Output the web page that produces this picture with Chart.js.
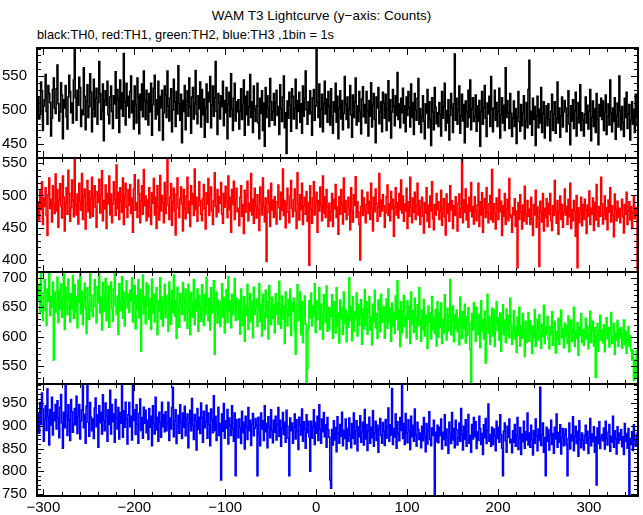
<!DOCTYPE html>
<html><head><meta charset="utf-8">
<script src="https://cdn.jsdelivr.net/npm/chart.js@4/dist/chart.umd.min.js"></script>
<style>
html,body{margin:0;padding:0;background:#fff;}
#wrap{position:relative;width:643px;height:515px;overflow:hidden;}
canvas{position:absolute;left:0;top:0;}
.t{position:absolute;font-family:"Liberation Sans",Arial,sans-serif;line-height:16px;color:#000;white-space:nowrap;}
#title{left:0;width:643px;text-align:center;top:8px;font-size:13.5px;}
#sub{left:37px;top:27px;font-size:12.8px;}
</style></head>
<body><div id="wrap">
<div class="t" id="title">WAM T3 Lightcurve (y−axis: Counts)</div>
<div class="t" id="sub">black:TH0, red:TH1, green:TH2, blue:TH3 ,1bin = 1s</div>
<canvas id="c" width="643" height="515"></canvas></div>
<script>
// time of the first 1 s bin (seconds); every following value is the next bin
const tStart = -306;

// black: TH0
const th0 = [
519,487,493,541,528,470,506,515,552,498,479,536,524,511,462,488,530,547,503,495,
531,566,509,484,497,540,522,458,515,503,536,490,472,519,551,527,496,510,481,544,
592,518,485,529,507,548,533,476,500,493,562,520,471,512,537,489,505,553,526,468,
502,545,490,517,532,479,511,571,524,486,499,538,455,514,528,507,542,493,480,519,
535,498,473,521,509,556,488,530,516,467,544,502,525,491,583,512,478,539,506,520,
489,527,550,496,513,472,535,508,481,547,519,465,523,500,538,490,557,514,486,529,
511,478,524,497,539,463,508,532,551,487,515,493,542,470,520,503,529,456,496,535,
522,489,557,506,484,517,531,468,500,545,512,476,527,494,565,509,485,523,452,514,
498,536,471,513,528,491,547,505,466,519,533,487,509,558,494,480,521,502,541,475,
530,493,516,460,503,538,482,526,512,549,474,507,535,491,518,571,498,464,524,510,
487,521,505,542,477,514,496,533,458,509,526,490,553,501,470,517,539,484,512,497,
515,472,498,531,486,509,544,463,520,493,527,478,505,552,489,512,467,535,501,483,
506,539,481,458,517,495,528,470,510,447,533,489,521,503,476,546,512,485,498,524,
478,511,529,492,505,464,537,501,483,519,550,474,496,436,513,488,526,507,469,531,
520,487,502,545,473,514,498,526,482,509,466,535,491,517,557,500,479,512,494,528,
497,463,518,530,485,506,591,512,489,538,475,501,523,468,509,542,494,516,482,527,
505,478,531,490,466,512,497,539,482,520,458,503,528,487,514,471,495,549,509,486,
519,474,501,536,493,460,522,489,512,547,478,506,483,527,498,465,516,534,490,508,
481,527,499,462,514,491,540,475,507,524,486,452,519,503,533,480,497,512,468,526,
510,488,523,470,501,543,484,515,459,497,530,506,477,521,492,555,486,509,474,517,
496,532,481,506,468,519,492,527,503,475,538,489,511,464,524,500,485,517,546,479,
502,467,490,521,483,458,509,495,530,474,512,486,448,518,497,471,533,504,480,496,
476,511,494,462,527,488,505,539,470,499,481,515,456,492,524,503,467,509,582,485,
517,479,500,535,466,491,523,484,508,452,513,497,475,529,489,544,471,502,518,483,
490,522,469,506,483,514,447,498,527,479,503,536,488,461,510,494,520,476,549,501,
468,503,529,485,511,476,497,532,459,493,518,481,507,470,562,489,514,496,473,524,
495,461,488,513,476,502,451,490,527,483,469,508,477,496,521,458,485,511,474,530,
573,479,498,463,517,486,505,448,492,520,474,501,481,533,467,495,512,459,488,506,
477,509,486,455,498,523,470,494,512,466,487,541,481,503,460,491,519,475,497,514,
503,468,492,528,479,449,506,484,515,473,499,526,462,488,511,481,537,470,496,485,
462,494,519,481,507,472,498,530,455,489,513,476,502,467,524,486,449,508,491,517,
486,513,470,497,522,464,490,509,478,544,495,468,503,483,518,457,492,510,475,550,
498,471,505,482,461,517,489,526,473,494,508,456,485,512,479,501,467,523,490,476
];

// red: TH1
const th1 = [
490,462,507,478,521,455,496,483,512,469,438,501,527,480,494,459,515,486,472,533,
476,509,451,493,518,484,465,530,497,445,488,512,471,539,503,460,481,524,492,467,
560,485,470,502,456,519,491,477,534,463,498,510,448,486,523,475,507,465,495,528,
468,497,515,482,451,506,489,525,473,500,538,461,492,479,516,449,503,487,530,470,
502,458,487,521,494,469,547,480,505,463,512,491,474,527,455,498,519,482,466,509,
485,517,472,496,443,510,532,477,489,466,524,503,458,492,515,471,540,484,499,461,
493,467,512,481,455,504,488,526,470,497,449,515,483,462,531,476,500,489,458,520,
472,506,560,485,463,497,518,454,490,511,476,439,502,527,481,466,495,513,487,445,
509,480,464,499,528,473,491,452,515,486,503,469,541,478,497,460,484,521,492,471,
461,495,517,479,448,504,487,526,469,500,513,476,455,492,535,483,467,509,474,498,
488,520,471,457,503,482,514,491,466,530,478,497,443,509,486,522,463,494,511,475,
480,453,497,515,468,486,441,508,474,499,522,461,488,476,534,470,494,457,511,483,
465,501,478,446,513,489,470,527,483,459,496,398,474,508,488,452,519,477,493,466,
498,472,456,490,516,481,463,505,477,541,469,492,450,486,511,474,458,499,523,480,
467,493,510,476,449,535,487,462,501,478,519,455,484,497,471,506,460,489,392,515,
479,457,496,521,470,488,505,443,492,476,513,484,461,530,473,498,466,509,482,452,
488,461,475,503,452,494,479,517,466,482,440,498,471,509,486,456,527,474,492,463,
470,497,481,447,512,476,459,501,485,529,466,490,474,455,400,483,508,469,496,478,
458,486,505,472,491,463,519,480,445,497,475,510,488,460,482,534,468,493,476,501,
484,451,473,498,516,469,487,461,506,479,494,437,482,512,470,489,465,503,478,524,
473,499,460,487,476,511,449,490,468,528,481,458,496,474,505,463,485,519,470,492,
455,481,497,468,442,489,473,512,460,485,451,499,476,521,464,447,486,470,503,478,
490,463,476,508,454,481,495,467,439,502,472,487,460,515,478,492,449,484,469,498,
471,445,488,502,466,479,565,458,493,474,510,462,485,451,497,476,520,467,483,456,
498,476,461,485,519,452,490,470,504,443,481,495,466,512,474,458,487,500,463,540,
459,487,472,448,496,480,463,509,475,491,438,484,468,503,455,479,494,461,526,470,
466,443,481,470,495,452,476,388,489,463,501,474,448,485,460,514,471,456,492,468,
479,455,497,464,438,486,470,508,451,482,467,390,491,474,459,503,445,480,466,495,
452,488,471,503,461,446,484,469,523,477,457,492,440,475,499,463,486,451,474,510,
470,483,455,494,467,519,449,478,461,492,476,437,500,388,481,458,472,497,453,486,
463,494,478,441,485,468,507,455,480,471,496,446,489,462,517,475,452,483,468,528,
487,456,472,499,463,481,447,493,474,512,459,484,470,436,502,478,461,491,466,480,
458,479,494,467,442,486,471,505,455,476,490,462,483,449,473,498,464,481,469,384
];

// green: TH2
const th2 = [
662,689,641,710,653,628,674,697,645,619,681,660,710,636,668,650,693,560,676,642,
655,701,624,679,647,690,633,666,710,612,684,651,637,698,660,625,673,646,704,631,
688,642,668,615,696,659,710,639,677,620,663,691,648,605,683,656,629,710,670,644,
634,671,697,651,623,685,658,710,640,667,611,692,675,643,699,627,661,686,616,678,
693,648,626,681,710,653,637,669,604,690,659,644,702,631,676,618,664,695,649,672,
641,679,661,700,625,656,687,613,670,646,697,632,680,575,658,705,639,668,622,691,
653,687,629,664,612,698,640,672,625,656,683,603,661,644,700,630,667,618,650,689,
632,670,646,609,693,657,621,678,641,705,635,662,597,684,649,616,673,655,638,692,
666,627,681,650,614,689,642,603,675,658,633,697,620,663,644,681,609,670,652,626,
688,645,619,672,638,701,654,627,665,611,683,640,658,695,570,648,676,623,662,634,
617,659,690,633,667,606,648,680,624,702,643,661,615,672,637,654,699,628,665,645,
629,662,604,681,645,619,668,592,653,636,689,612,647,673,625,659,598,684,638,651,
664,617,649,690,626,655,601,672,640,613,679,633,660,596,687,645,620,667,631,654,
606,673,638,657,621,694,645,614,669,630,652,588,676,641,618,663,635,681,602,658,
643,665,610,570,654,688,627,645,676,603,659,590,634,669,621,520,545,614,661,632,
674,618,652,636,690,607,661,629,647,683,612,655,638,596,671,643,624,686,609,650,
612,648,634,671,597,625,659,606,683,618,640,589,662,631,650,604,676,622,645,591,
638,616,700,627,651,593,668,609,642,630,674,601,655,619,636,663,587,647,613,680,
620,659,604,642,668,611,633,586,655,626,679,615,639,597,662,648,608,672,624,643,
651,597,636,664,614,681,625,648,592,657,618,640,605,669,630,695,611,645,583,659,
606,643,670,617,635,598,661,629,652,588,676,621,644,607,665,632,596,654,619,683,
628,592,645,611,663,601,637,619,580,652,624,640,596,668,612,633,605,646,584,659,
599,641,615,657,588,629,606,671,618,594,648,610,635,697,603,626,652,591,637,614,
645,608,631,586,667,620,597,642,613,655,589,634,602,649,623,578,520,639,611,658,
616,592,650,624,603,638,581,661,609,629,596,643,555,618,672,605,634,587,627,648,
601,646,583,621,659,610,632,594,640,575,617,654,603,628,590,647,612,636,598,665,
621,587,609,644,596,615,573,633,602,650,584,618,597,639,608,566,626,590,613,641,
592,627,604,571,618,598,646,583,612,629,594,637,605,580,621,600,653,588,615,603,
634,596,579,617,603,642,585,610,626,572,608,594,631,587,619,645,598,614,581,623,
601,619,588,635,574,606,628,592,613,650,583,609,597,624,568,616,602,639,590,611,
585,612,631,596,618,579,604,643,590,610,626,584,615,530,601,622,575,609,636,594,
611,589,620,574,603,632,596,615,582,609,641,588,598,622,570,606,594,627,583,612,
597,615,580,603,628,586,609,571,594,617,583,601,576,560,577,525,560,530,575,540
];

// blue: TH3
const th3 = [
926,884,951,903,972,937,866,915,944,890,981,921,858,936,902,963,880,929,911,947,
893,955,918,874,940,969,907,851,930,896,992,922,879,946,913,868,958,931,886,904,
938,902,965,883,920,947,871,911,935,990,896,925,862,943,992,908,877,951,919,889,
915,872,939,961,898,924,853,944,907,930,882,968,912,889,950,921,866,935,903,978,
882,947,909,926,864,958,917,893,940,871,929,906,988,875,933,897,952,915,860,924,
951,898,921,869,990,912,935,881,946,903,862,927,959,890,918,873,941,906,934,885,
912,870,938,897,921,856,944,905,882,963,891,919,866,930,908,875,952,898,925,887,
931,889,904,952,868,917,893,940,985,876,910,935,861,899,923,884,946,907,872,928,
897,943,878,915,926,852,907,934,889,960,901,870,925,911,847,938,892,919,883,950,
918,864,932,896,909,945,873,928,902,856,937,914,885,966,890,921,868,903,941,879,
905,781,926,888,949,873,911,895,936,860,917,902,879,944,893,866,928,790,914,886,
874,915,896,861,932,885,908,849,921,897,870,940,889,912,857,903,927,878,895,916,
901,790,919,882,856,928,893,911,868,944,887,905,852,920,898,874,935,890,863,912,
886,921,869,903,940,877,912,855,895,929,881,908,864,934,899,873,790,917,889,906,
862,897,926,871,913,889,848,919,902,880,937,866,909,892,851,924,885,910,876,800,
910,873,898,935,859,907,884,921,868,946,893,862,915,887,929,876,902,853,918,891,
875,781,763,892,858,911,869,896,843,920,884,862,903,877,930,856,890,872,915,849,
894,866,917,881,852,905,873,928,860,889,911,845,898,876,922,864,887,908,858,936,
871,903,846,889,919,862,897,874,933,855,885,910,868,901,842,893,916,879,862,907,
888,857,914,873,898,939,866,902,880,982,859,894,875,926,851,909,883,867,918,890,
990,872,905,859,927,884,863,913,889,848,921,876,901,866,937,880,855,908,892,870,
884,852,899,867,918,876,843,905,860,889,931,870,856,895,879,912,747,886,865,901,
863,897,878,915,849,886,870,924,857,893,875,840,908,882,861,929,869,894,852,912,
891,858,873,906,866,938,881,847,899,870,913,855,887,925,862,879,842,903,871,918,
876,909,850,887,868,921,894,859,883,837,902,874,916,861,890,948,866,881,855,897,
859,893,878,845,910,872,897,864,924,881,851,790,888,906,867,842,899,875,915,863,
870,841,889,864,903,855,879,918,848,873,896,837,882,865,910,851,887,869,928,858,
884,853,901,870,836,889,862,915,877,845,893,868,985,857,880,906,842,874,790,897,
866,892,847,878,912,859,883,840,897,871,926,853,885,864,902,838,875,894,856,881,
893,858,790,872,906,849,881,867,920,845,876,899,861,888,833,911,870,852,884,868,
847,879,901,862,888,839,873,916,856,882,865,898,842,876,770,895,861,909,850,874,
881,867,895,849,910,873,858,886,903,844,877,864,921,853,889,871,838,898,862,884,
869,892,854,876,837,905,866,883,851,894,748,872,859,887,846,902,868,855,879,886
];

// tick labels
const xTickValues = [-300, -200, -100, 0, 100, 200, 300];
const yTicksTH0 = [450, 500, 550];
const yTicksTH1 = [400, 450, 500, 550];
const yTicksTH2 = [550, 600, 650, 700];
const yTicksTH3 = [750, 800, 850, 900, 950];

// axis ranges
const xRange = [-307, 354];
const yRangeTH0 = [429.5, 591];
const yRangeTH1 = [381.5, 558];
const yRangeTH2 = [519, 710];
const yRangeTH3 = [745.6, 992];

const FONT = '"Liberation Sans", Arial, sans-serif';

function toPoints(arr) { return arr.map((v, i) => ({ x: tStart + i, y: v })); }

// panels top -> bottom
const panels = [
  { id: 'y0', data: th0, color: '#000000', range: yRangeTH0, ticks: yTicksTH0, weight: 110 },
  { id: 'y1', data: th1, color: '#ff0000', range: yRangeTH1, ticks: yTicksTH1, weight: 114 },
  { id: 'y2', data: th2, color: '#00ff00', range: yRangeTH2, ticks: yTicksTH2, weight: 112 },
  { id: 'y3', data: th3, color: '#0000ff', range: yRangeTH3, ticks: yTicksTH3, weight: 112 }
];

const scales = {
  x: {
    type: 'linear', position: 'bottom', min: xRange[0], max: xRange[1],
    afterBuildTicks: s => { s.ticks = xTickValues.map(v => ({ value: v })); },
    afterFit: s => { s.height = 19; },
    grid: { display: false, drawTicks: false }, border: { display: false },
    ticks: { padding: 3, color: '#000', font: { family: FONT, size: 15 }, maxRotation: 0, autoSkip: false,
      callback: v => String(v).replace('-', '\u2212') }
  }
};
// last defined stacked axis is placed on top -> define bottom panel first
[...panels].reverse().forEach(p => {
  scales[p.id] = {
    type: 'linear', position: 'left', stack: 'panels', stackWeight: p.weight,
    min: p.range[0], max: p.range[1],
    afterBuildTicks: s => { s.ticks = p.ticks.map(v => ({ value: v })); },
    afterFit: s => { s.width = 37; },
    grid: { display: false, drawTicks: false }, border: { display: false },
    ticks: { padding: 10, color: '#000', font: { family: FONT, size: 15 }, autoSkip: false }
  };
});

const panelFrame = {
  id: 'panelFrame',
  beforeDatasetDraw(chart, args) {
    const meta = chart.getDatasetMeta(args.index);
    const ys = chart.scales[meta.yAxisID];
    const a = chart.chartArea, ctx = chart.ctx;
    ctx.save();
    ctx.beginPath();
    ctx.rect(a.left, ys.top, a.right - a.left, ys.bottom - ys.top);
    ctx.clip();
  },
  afterDatasetDraw(chart) { chart.ctx.restore(); },
  afterDraw(chart) {
    const ctx = chart.ctx, a = chart.chartArea, xs = chart.scales.x;
    ctx.save();
    ctx.strokeStyle = '#000';
    panels.forEach(p => {
      const s = chart.scales[p.id];
      ctx.lineWidth = 1;
      ctx.beginPath();
      for (let v = Math.ceil(s.min / 10) * 10; v <= s.max; v += 10) {
        const y = Math.round(s.getPixelForValue(v)) + 0.5;
        const len = v % 50 === 0 ? 7 : 4;
        ctx.moveTo(a.left, y); ctx.lineTo(a.left + len, y);
        ctx.moveTo(a.right, y); ctx.lineTo(a.right - len, y);
      }
      for (let v = Math.ceil(xs.min / 20) * 20; v <= xs.max; v += 20) {
        const x = Math.round(xs.getPixelForValue(v)) + 0.5;
        const len = v % 100 === 0 ? 7 : 4;
        ctx.moveTo(x, s.top); ctx.lineTo(x, s.top + len);
        ctx.moveTo(x, s.bottom); ctx.lineTo(x, s.bottom - len);
      }
      ctx.stroke();
      ctx.lineWidth = 2;
      ctx.strokeRect(a.left, s.top, a.right - a.left, s.bottom - s.top);
    });
    ctx.restore();
  }
};

new Chart(document.getElementById('c'), {
  type: 'line',
  data: {
    datasets: panels.map(p => ({
      data: toPoints(p.data), yAxisID: p.id, xAxisID: 'x',
      borderColor: p.color, borderWidth: 1.6, pointRadius: 0, stepped: true, fill: false, tension: 0
    }))
  },
  options: {
    responsive: false, animation: false, events: [],
    layout: { padding: { top: 48, right: 5, left: 0, bottom: 0 } },
    plugins: { legend: { display: false }, tooltip: { enabled: false }, title: { display: false } },
    scales
  },
  plugins: [panelFrame]
});
</script>
</body></html>
